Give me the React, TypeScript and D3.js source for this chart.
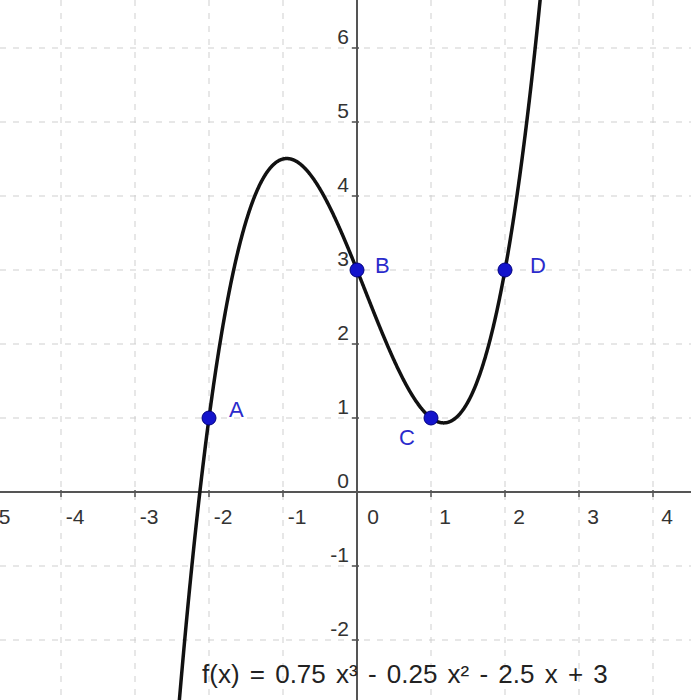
import React, { useMemo } from "react";
import * as d3 from "d3";

// f(x) = a x³ + b x² + c x + d, coefficients as printed under the graph
const coefficients = [0.75, -0.25, -2.5, 3];
const formulaLabel = "f(x) = 0.75 x³ - 0.25 x² - 2.5 x + 3";

// named points on the curve
const pointNames = ["A", "B", "C", "D"];
const pointX = [-2, 0, 1, 2];
const pointY = [1, 3, 1, 3];

const xTicks = [-5, -4, -3, -2, -1, 0, 1, 2, 3, 4];
const yTicks = [-2, -1, 0, 1, 2, 3, 4, 5, 6];

const width = 691;
const height = 700;
const unit = 74;
const originX = 357;
const originY = 492;

// label placement next to each point (px)
const labelOffset: Record<string, [number, number]> = {
  A: [20, -1],
  B: [18, 3],
  C: [-32, 27],
  D: [25, 3],
};

const font = "'Liberation Sans', Arial, sans-serif";

const evalPoly = (x: number) =>
  coefficients.reduce((acc, k) => acc * x + k, 0);

const App = () => {
  const xScale = d3
    .scaleLinear()
    .domain([-originX / unit, (width - originX) / unit])
    .range([0, width]);
  const yScale = d3
    .scaleLinear()
    .domain([-(height - originY) / unit, originY / unit])
    .range([height, 0]);

  const curvePath = useMemo(() => {
    const [x0, x1] = xScale.domain();
    const xs = d3.range(x0, x1 + 0.005, 0.005);
    const line = d3
      .line<number>()
      .x((x) => xScale(x))
      .y((x) => yScale(evalPoly(x)))
      .defined((x) => Math.abs(evalPoly(x)) < 40);
    return line(xs) || "";
  }, []);

  const x0 = xScale(0);
  const y0 = yScale(0);

  return (
    <>
      <style>{`body{margin:0}`}</style>
      <svg width={width} height={height} style={{ display: "block", background: "#fff" }}>
        {/* grid */}
        <g stroke="#cfcfcf" strokeWidth={1} strokeDasharray="6,7">
          {xTicks.map((t) => (
            <line key={"gx" + t} x1={xScale(t)} x2={xScale(t)} y1={0} y2={height} />
          ))}
          {yTicks.map((t) => (
            <line key={"gy" + t} x1={0} x2={width} y1={yScale(t)} y2={yScale(t)} />
          ))}
        </g>

        {/* axes */}
        <g stroke="#555" strokeWidth={2}>
          <line x1={0} x2={width} y1={y0} y2={y0} />
          <line x1={x0} x2={x0} y1={0} y2={height} />
          {xTicks.filter((t) => t !== 0).map((t) => (
            <line key={"tx" + t} x1={xScale(t)} x2={xScale(t)} y1={y0 - 2} y2={y0 + 5} strokeWidth={1.5} />
          ))}
          {yTicks.filter((t) => t !== 0).map((t) => (
            <line key={"ty" + t} x1={x0 - 5} x2={x0 + 2} y1={yScale(t)} y2={yScale(t)} strokeWidth={1.5} />
          ))}
        </g>

        {/* tick labels */}
        <g fontFamily={font} fontSize={21} fill="#333">
          {xTicks.map((t) => (
            <text key={"lx" + t} x={xScale(t) + (t === 0 ? 16 : 14)} y={y0 + 32} textAnchor="middle">
              {t}
            </text>
          ))}
          {yTicks.map((t) => (
            <text key={"ly" + t} x={x0 - 8} y={yScale(t) - 4} textAnchor="end">
              {t}
            </text>
          ))}
        </g>

        {/* function graph */}
        <path d={curvePath} fill="none" stroke="#111" strokeWidth={3.5} strokeLinejoin="round" />

        {/* points */}
        {pointNames.map((name, i) => {
          const px = xScale(pointX[i]);
          const py = yScale(pointY[i]);
          const [dx, dy] = labelOffset[name];
          return (
            <g key={name}>
              <circle cx={px} cy={py} r={7} fill="#1414cc" stroke="#000080" strokeWidth={1} />
              <text x={px + dx} y={py + dy} fontFamily={font} fontSize={22} fill="#2b2bcc">
                {name}
              </text>
            </g>
          );
        })}

        {/* formula */}
        <text x={202} y={683} fontFamily={font} fontSize={26} fill="#222" style={{ wordSpacing: "3px" }}>
          {formulaLabel}
        </text>
      </svg>
    </>
  );
};

export default App;
